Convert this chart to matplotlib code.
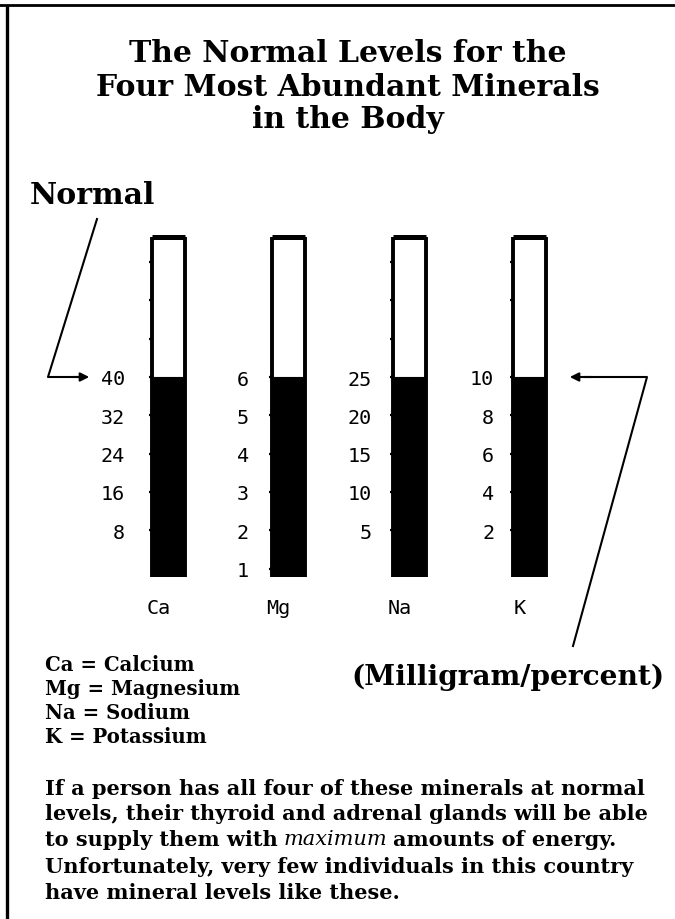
import matplotlib
matplotlib.use("Agg")
import matplotlib.pyplot as plt

# ---------------- data ----------------
minerals = ["Ca", "Mg", "Na", "K"]
normal_levels = [40, 6, 25, 10]
tick_values = [[8, 16, 24, 32, 40],
               [1, 2, 3, 4, 5, 6],
               [5, 10, 15, 20, 25],
               [2, 4, 6, 8, 10]]
upper_marks = [[48, 56, 64], [], [30, 35, 40], [14, 16]]
legend_lines = ["Ca = Calcium", "Mg = Magnesium", "Na = Sodium", "K = Potassium"]
title_lines = ["The Normal Levels for the", "Four Most Abundant Minerals", "in the Body"]
para_lines = ["If a person has all four of these minerals at normal",
              "levels, their thyroid and adrenal glands will be able",
              None,
              "Unfortunately, very few individuals in this country",
              "have mineral levels like these."]
para_line3 = ["to supply them with", "maximum", "amounts of energy."]

# ---------------- layout ----------------
W, H = 675, 920
fig = plt.figure(figsize=(W / 100, H / 100), dpi=100)
fig.patch.set_facecolor("white")

SERIF = "DejaVu Serif"
MONO = "DejaVu Sans Mono"

bar_left_px = [152, 272, 393, 513]
bar_w_px = 33
tube_top, tube_bot, normal_px = 238, 578, 378
step_px = 38.3
ypads = [17, 14, 13, 11]

for i, m in enumerate(minerals):
    ticks = tick_values[i]
    step = ticks[1] - ticks[0]
    ppu = step_px / step
    lo = normal_levels[i] - (tube_bot - normal_px) / ppu
    hi = normal_levels[i] + (normal_px - tube_top) / ppu
    ax = fig.add_axes([bar_left_px[i] / W, 1 - tube_bot / H,
                       bar_w_px / W, (tube_bot - tube_top) / H])
    ax.set_xlim(-0.5, 0.5)
    ax.set_ylim(lo, hi)
    ax.bar([0], [normal_levels[i] - lo], bottom=lo, width=1.0,
           color="black", edgecolor="black", linewidth=0.8, zorder=2)
    ax.spines["bottom"].set_visible(False)
    ax.spines["left"].set_linewidth(2.8)
    ax.spines["right"].set_linewidth(2.8)
    ax.spines["top"].set_linewidth(3.6)
    for s in ax.spines.values():
        s.set_zorder(3)
        s.set_capstyle("butt")
    ax.set_yticks(ticks)
    ax.set_yticklabels([str(t) for t in ticks], fontfamily=MONO, fontsize=14.5)
    ax.set_yticks(upper_marks[i], minor=True)
    ax.tick_params(axis="y", which="both", direction="out", length=2.5,
                   width=1.6, pad=ypads[i], colors="black")
    ax.set_xticks([-0.3])
    ax.set_xticklabels([m], fontfamily=MONO, fontsize=14.5)
    ax.tick_params(axis="x", length=0, pad=15)

# overlay in pixel coordinates for annotations/text
ov = fig.add_axes([0, 0, 1, 1])
ov.set_xlim(0, W)
ov.set_ylim(H, 0)
ov.axis("off")

# frame lines
ov.plot([7, 7], [8, H], color="black", lw=2.4, clip_on=False)
ov.plot([0, W], [6, 6], color="black", lw=2.0, clip_on=False)

# title
for txt, y in zip(title_lines, [53, 87, 119]):
    ov.text(348, y, txt, ha="center", va="center", fontsize=21.5,
            fontweight="bold", family=SERIF)

# Normal label and arrow
ov.text(30, 195, "Normal", ha="left", va="center", fontsize=21.5,
        fontweight="bold", family=SERIF)
ov.plot([97, 48, 80], [220, 378, 378], color="black", lw=1.5)
ov.annotate("", xy=(92, 378), xytext=(70, 378),
            arrowprops=dict(arrowstyle="-|>", color="black", lw=1.5,
                            mutation_scale=13))

# right arrow
ov.plot([573, 647, 585], [647, 378, 378], color="black", lw=1.5)
ov.annotate("", xy=(567, 378), xytext=(595, 378),
            arrowprops=dict(arrowstyle="-|>", color="black", lw=1.5,
                            mutation_scale=13))

# units
ov.text(351, 677, "(Milligram/percent)", ha="left", va="center",
        fontsize=20.2, fontweight="bold", family=SERIF)

# legend
for txt, y in zip(legend_lines, [665, 689, 713, 737]):
    ov.text(45, y, txt, ha="left", va="center", fontsize=14.2,
            fontweight="bold", family=SERIF)

# paragraph
FS = 15.0
para_y = [789, 814, 840, 867, 893]
for txt, y in zip(para_lines, para_y):
    if txt is not None:
        ov.text(45, y, txt, ha="left", va="center", fontsize=FS,
                fontweight="bold", family=SERIF)

renderer = fig.canvas.get_renderer()
x = 45
styles = [("bold", "normal"), ("normal", "italic"), ("bold", "normal")]
for txt, (wt, st) in zip(para_line3, styles):
    t = ov.text(x, para_y[2], txt, ha="left", va="center", fontsize=FS,
                fontweight=wt, fontstyle=st, family=SERIF)
    bb = t.get_window_extent(renderer=renderer)
    x = bb.x1 + 6

fig.savefig("out.png", dpi=100, facecolor="white")
